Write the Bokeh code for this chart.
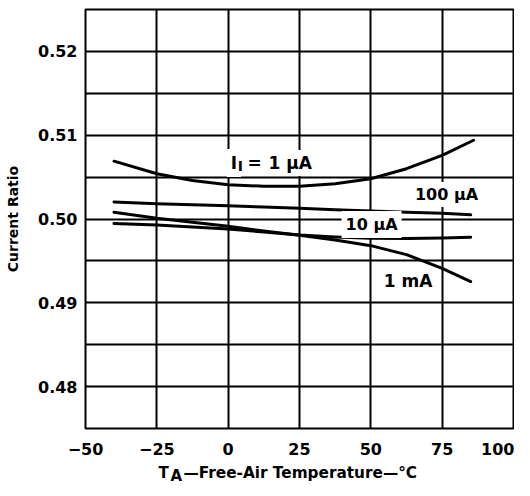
from bokeh.plotting import figure
from bokeh.models import FixedTicker, Label, Range1d
from bokeh.layouts import column
from bokeh.core.properties import value
from bokeh.embed import file_html
from bokeh.resources import INLINE

# ---- data ----
temps = [-40, -25, -12.5, 0, 12.5, 25, 37.5, 50, 62.5, 75, 85]
temps_1uA = [-40, -25, -12.5, 0, 12.5, 25, 37.5, 50, 62.5, 75, 86]
ratio_1uA = [0.5069, 0.5054, 0.5046, 0.5041, 0.5039, 0.5039, 0.5042, 0.5048, 0.5060, 0.5076, 0.5094]
ratio_100uA = [0.50202, 0.50182, 0.5017, 0.50157, 0.50142, 0.50128, 0.50111, 0.50095, 0.50081, 0.50068, 0.5005]
ratio_10uA = [0.49945, 0.49929, 0.49905, 0.49881, 0.49845, 0.49810, 0.49786, 0.49770, 0.49768, 0.49774, 0.49782]
ratio_1mA = [0.50080, 0.50008, 0.49961, 0.49913, 0.49857, 0.49806, 0.49750, 0.49682, 0.49575, 0.4941, 0.49254]

x_ticks = [-50, -25, 0, 25, 50, 75, 100]
x_tick_labels = ["\u221250", "\u221225", "0", "25", "50", "75", "100"]
y_ticks = [0.48, 0.49, 0.50, 0.51, 0.52]
y_tick_labels = ["0.48", "0.49", "0.50", "0.51", "0.52"]
y_grid = [0.475, 0.48, 0.485, 0.49, 0.495, 0.50, 0.505, 0.51, 0.515, 0.52, 0.525]

FONT = "DejaVu Sans"

p = figure(width=514, height=462, output_backend="svg", toolbar_location=None,
           x_range=Range1d(-50, 100), y_range=Range1d(0.475, 0.525),
           min_border_left=85, min_border_right=1, min_border_top=9, min_border_bottom=34)

p.background_fill_color = "white"
p.border_fill_color = "white"
p.outline_line_color = "black"
p.outline_line_width = 2

# grids
p.xgrid.ticker = FixedTicker(ticks=x_ticks)
p.ygrid.ticker = FixedTicker(ticks=y_grid)
for g in (p.xgrid, p.ygrid):
    g.grid_line_color = "black"
    g.grid_line_width = 2
    g.grid_line_alpha = 1.0

# axes
p.xaxis.ticker = FixedTicker(ticks=x_ticks)
p.yaxis.ticker = FixedTicker(ticks=y_ticks)
p.xaxis.major_label_overrides = {t: s for t, s in zip(x_ticks, x_tick_labels)}
p.yaxis.major_label_overrides = {t: s for t, s in zip(y_ticks, y_tick_labels)}
for ax in (p.xaxis, p.yaxis):
    ax.axis_line_color = None
    ax.major_tick_line_color = None
    ax.minor_tick_line_color = None
    ax.major_tick_out = 0
    ax.major_tick_in = 0
    ax.minor_tick_out = 0
    ax.minor_tick_in = 0
    ax.major_label_text_font = FONT
    ax.major_label_text_font_style = "bold"
    ax.major_label_text_font_size = "16px"
    ax.major_label_text_color = "black"
p.xaxis.major_label_standoff = 14
p.yaxis.major_label_standoff = 8

p.yaxis.axis_label = "Current Ratio"
p.yaxis.axis_label_text_font = FONT
p.yaxis.axis_label_text_font_style = "bold"
p.yaxis.axis_label_text_font_size = "14px"
p.yaxis.axis_label_text_color = "black"
p.yaxis.axis_label_standoff = 14

# curves
for xs, ys in ((temps_1uA, ratio_1uA), (temps, ratio_100uA), (temps, ratio_10uA), (temps, ratio_1mA)):
    p.line(xs, ys, line_width=3, line_color="black", line_join="round", line_cap="round")


def lab(x, y, text, size="16px", align="center", bg=False, pad=3):
    kw = dict(x=x, y=y, text=text, text_font=FONT, text_font_style="bold",
              text_font_size=size, text_color="black", text_align=align,
              text_baseline="middle")
    if bg:
        kw.update(background_fill_color="white", padding=pad)
    p.add_layout(Label(**kw))


# curve labels
lab(-0.47, 0.50667, "I", size="17px", align="left", bg=True, pad=4)
lab(9.24, 0.50667, "=", size="17px", bg=True, pad=3)
lab(13.09, 0.50667, "1 \u03bcA", size="17px", align="left", bg=True, pad=3)
lab(3.35, 0.50632, "I", size="14px", align="left")
lab(76.53, 0.50292, "100 \u03bcA", bg=True, pad=3)
lab(50.25, 0.49934, "10 \u03bcA", bg=True, pad=4)
lab(63.04, 0.49256, "1 mA", size="17px")

# x-axis title (with subscript) in a strip below the plot
t = figure(width=514, height=24, output_backend="svg", toolbar_location=None,
           x_range=p.x_range, y_range=Range1d(0, 24),
           x_axis_type=None, y_axis_type=None,
           min_border_left=85, min_border_right=1, min_border_top=0, min_border_bottom=0)
t.outline_line_color = None
t.background_fill_color = "white"
t.border_fill_color = "white"
t.xgrid.visible = False
t.ygrid.visible = False
t.text(x=[-24.41], y=[13.5], text=["T"],
       text_font=value(FONT), text_font_style="bold", text_font_size="15px",
       text_color="black", text_align="left", text_baseline="middle")
t.text(x=[-15.65], y=[13.5], text=["\u2014Free-Air Temperature\u2014\u00b0C"],
       text_font=value(FONT), text_font_style="bold", text_font_size="15.3px",
       text_color="black", text_align="left", text_baseline="middle")
t.text(x=[-20.21], y=[10.5], text=["A"],
       text_font=value(FONT), text_font_style="bold", text_font_size="15px",
       text_color="black", text_align="left", text_baseline="middle")

layout = column(p, t, spacing=0)
open("out.html", "w").write(file_html(layout, INLINE))
